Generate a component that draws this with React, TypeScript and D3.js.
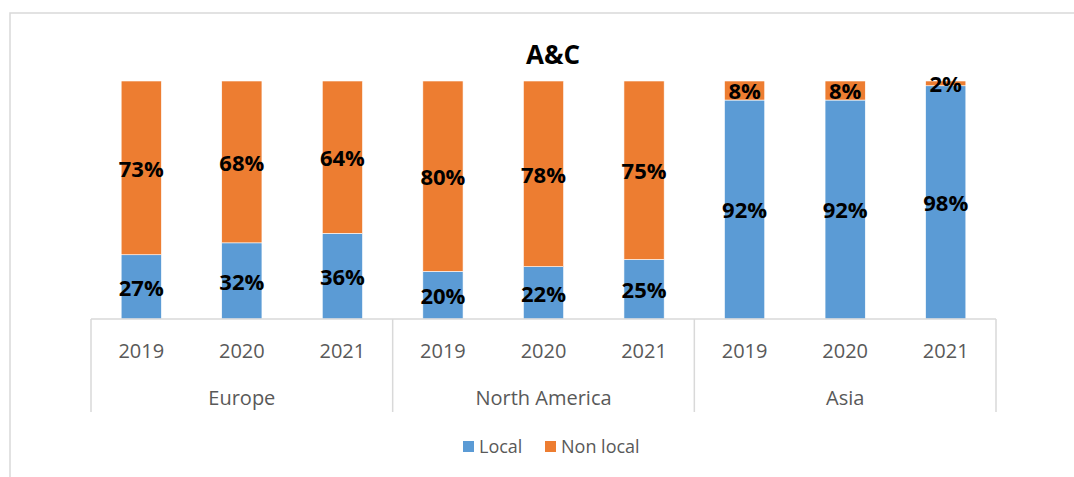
import React from "react";
import * as d3 from "d3";

const groups = ["Europe", "North America", "Asia"];
const years = ["2019", "2020", "2021"];
// shares per group, in the order of years
const localShare = [
  [27, 32, 36],
  [20, 22, 25],
  [92, 92, 98],
];
const nonLocalShare = [
  [73, 68, 64],
  [80, 78, 75],
  [8, 8, 2],
];
const seriesNames = ["Local", "Non local"];
const seriesColors = ["#5B9BD5", "#ED7D31"];

export default function App() {
  const ref = React.useRef<SVGSVGElement>(null);

  React.useEffect(() => {
    const width = 1074;
    const height = 477;
    const plotLeft = 91;
    const plotRight = 996;
    const plotTop = 81;
    const plotBottom = 319;
    const font = "'Open Sans', 'Noto Sans', sans-serif";
    const axisGray = "#D9D9D9";
    const textGray = "#595959";

    const svg = d3
      .select(ref.current)
      .attr("width", width)
      .attr("height", height)
      .attr("viewBox", [0, 0, width, height])
      .style("position", "absolute")
      .style("left", "0px")
      .style("top", "0px")
      .style("background", "#fff");

    // chart area frame (only top and left edges are in view)
    svg.append("path")
      .attr("d", `M10,${height} V13 H${width}`)
      .attr("fill", "none")
      .attr("stroke", axisGray)
      .attr("stroke-width", 1.5);

    const xGroup = d3
      .scaleBand<string>()
      .domain(groups)
      .range([plotLeft, plotRight]);

    const xYear = d3
      .scaleBand<string>()
      .domain(years)
      .range([0, xGroup.step()])
      .paddingInner(0.6)
      .paddingOuter(0.3);

    const y = d3.scaleLinear().domain([0, 100]).range([plotBottom, plotTop]);

    const rows = groups.flatMap((g, gi) =>
      years.map((yr, yi) => ({
        group: g,
        year: yr,
        local: localShare[gi][yi],
        nonLocal: nonLocalShare[gi][yi],
      }))
    );

    const stack = d3
      .stack<any>()
      .keys(["local", "nonLocal"]);
    const stacked = stack(rows);

    const barX = (d: any) => (xGroup(d.group) as number) + (xYear(d.year) as number);

    stacked.forEach((layer, li) => {
      const g = svg.append("g");
      g.selectAll("rect")
        .data(layer)
        .join("rect")
        .attr("x", (d) => barX(d.data))
        .attr("y", (d) => y(d[1]))
        .attr("width", xYear.bandwidth())
        .attr("height", (d) => y(d[0]) - y(d[1]))
        .attr("fill", seriesColors[li])
        .attr("stroke", "#fff")
        .attr("stroke-width", 0.6);

      g.selectAll("text")
        .data(layer)
        .join("text")
        .attr("x", (d) => barX(d.data) + xYear.bandwidth() / 2)
        .attr("y", (d) => (y(d[0]) + y(d[1])) / 2)
        .attr("dy", "0.4em")
        .attr("text-anchor", "middle")
        .attr("font-family", font)
        .attr("font-weight", 700)
        .attr("font-size", 22)
        .attr("fill", "#000")
        .text((d) => `${d[1] - d[0]}%`);
    });

    // category axis
    const axis = svg.append("g");
    axis.append("line")
      .attr("x1", plotLeft)
      .attr("x2", plotRight)
      .attr("y1", plotBottom)
      .attr("y2", plotBottom)
      .attr("stroke", axisGray)
      .attr("stroke-width", 1.5);

    const boundaries = groups.map((g) => xGroup(g) as number).concat([plotRight]);
    axis.selectAll("line.tick")
      .data(boundaries)
      .join("line")
      .attr("class", "tick")
      .attr("x1", (d) => d)
      .attr("x2", (d) => d)
      .attr("y1", plotBottom)
      .attr("y2", 412)
      .attr("stroke", axisGray)
      .attr("stroke-width", 1.5);

    axis.selectAll("text.year")
      .data(rows)
      .join("text")
      .attr("class", "year")
      .attr("x", (d) => barX(d) + xYear.bandwidth() / 2)
      .attr("y", 351)
      .attr("dy", "0.36em")
      .attr("text-anchor", "middle")
      .attr("font-family", font)
      .attr("font-size", 20)
      .attr("fill", textGray)
      .text((d) => d.year);

    axis.selectAll("text.group")
      .data(groups)
      .join("text")
      .attr("class", "group")
      .attr("x", (d) => (xGroup(d) as number) + xGroup.bandwidth() / 2)
      .attr("y", 398)
      .attr("dy", "0.36em")
      .attr("text-anchor", "middle")
      .attr("font-family", font)
      .attr("font-size", 20)
      .attr("fill", textGray)
      .text((d) => d);

    // title
    svg.append("text")
      .attr("x", 553)
      .attr("y", 55)
      .attr("dy", "0.36em")
      .attr("text-anchor", "middle")
      .attr("font-family", font)
      .attr("font-weight", 700)
      .attr("font-size", 26)
      .attr("fill", "#000")
      .text("A&C");

    // legend
    const legendX = [463, 545];
    const legend = svg.append("g");
    seriesNames.forEach((name, i) => {
      legend.append("rect")
        .attr("x", legendX[i])
        .attr("y", 441)
        .attr("width", 11)
        .attr("height", 11)
        .attr("fill", seriesColors[i]);
      legend.append("text")
        .attr("x", legendX[i] + 16)
        .attr("y", 446.5)
        .attr("dy", "0.36em")
        .attr("font-family", font)
        .attr("font-size", 18)
        .attr("fill", textGray)
        .text(name);
    });

    return () => {
      svg.selectAll("*").remove();
    };
  }, []);

  return <svg ref={ref}></svg>;
}
